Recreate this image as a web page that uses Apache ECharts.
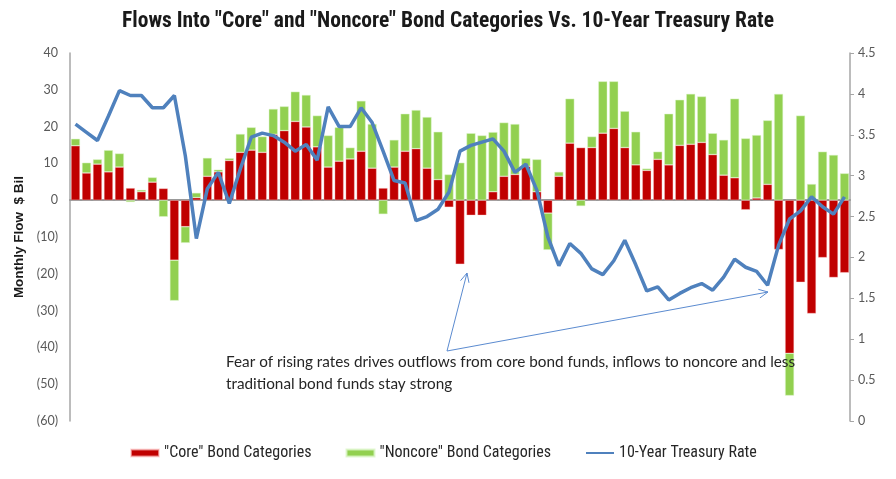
<!DOCTYPE html>
<html lang="en">
<head>
  <meta charset="UTF-8">
  <title>Bond flows vs 10-year rate</title>
  <style>
    html, body { margin: 0; padding: 0; background: #fff; }
    #chart { width: 896px; height: 479px; }
  </style>
</head>
<body>
  <div id="chart"></div>
</body>
<script src="https://cdn.jsdelivr.net/npm/echarts@6/dist/echarts.min.js"></script>
<script>
  // monthly, Jan 2008 .. Nov 2013
  let months = []
  for (let i = 0; i < 71; i++) {
    let y = 2008 + Math.floor(i / 12)
    let m = (i % 12) + 1
    months.push(y + '-' + (m < 10 ? '0' + m : m))
  }

  let coreFlow = [
    14.8, 7.4, 9.8, 7.7, 9.0, 3.3, 2.3, 4.9, 3.2, -16.3,
    -7.2, 0.7, 6.5, 7.7, 10.8, 13.0, 13.6, 13.0, 17.9, 18.9,
    21.4, 19.9, 14.5, 9.0, 10.6, 11.2, 13.3, 8.7, 3.3, 9.0,
    13.3, 14.0, 8.7, 5.6, -1.9, -17.4, -4.1, -4.1, 2.3, 6.5,
    7.0, 9.2, 2.3, -3.5, 6.5, 15.5, 14.3, 14.3, 18.2, 19.5,
    14.3, 9.6, 8.1, 11.1, 9.6, 14.9, 15.2, 15.7, 12.4, 6.8,
    6.1, -2.6, 0.6, 4.3, -13.4, -41.6, -22.3, -30.8, -15.6, -21.0,
    -19.7
  ]
  let noncoreFlow = [
    1.9, 2.8, 1.3, 5.9, 3.7, -0.5, 0.5, 1.3, -4.5, -11.0,
    -4.4, 1.3, 5.0, 0.6, 0.6, 5.0, 6.2, 4.3, 6.9, 6.6,
    8.1, 8.7, 8.5, 8.6, 9.2, 3.1, 13.7, 12.0, -3.8, 7.4,
    10.2, 10.5, 13.9, 13.0, 7.0, 10.2, 18.2, 17.6, 16.2, 14.6,
    13.7, 2.2, 8.8, -10.0, 1.2, 12.1, -1.6, 3.0, 14.1, 12.8,
    9.9, 9.0, 0.5, 2.1, 13.9, 12.4, 13.7, 12.5, 5.8, 9.6,
    21.5, 16.8, 17.1, 17.4, 28.9, -11.5, 23.0, 4.4, 13.2, 12.3,
    7.3
  ]
  let treasuryRate = [
    3.63, 3.53, 3.43, 3.73, 4.04, 3.98, 3.98, 3.83, 3.83, 3.98,
    3.24, 2.23, 2.84, 3.04, 2.66, 3.08, 3.47, 3.52, 3.49, 3.41,
    3.30, 3.38, 3.19, 3.84, 3.60, 3.60, 3.83, 3.65, 3.30, 2.94,
    2.91, 2.45, 2.50, 2.59, 2.80, 3.30, 3.37, 3.41, 3.45, 3.30,
    3.04, 3.14, 2.82, 2.25, 1.90, 2.17, 2.05, 1.86, 1.79, 1.96,
    2.21, 1.91, 1.59, 1.64, 1.48, 1.56, 1.63, 1.68, 1.60, 1.76,
    1.98, 1.88, 1.83, 1.66, 2.15, 2.47, 2.57, 2.74, 2.62, 2.53,
    2.74
  ]

  let noteLines = [
    'Fear of rising rates drives outflows from core bond funds, inflows to noncore and less',
    'traditional bond funds stay strong'
  ]

  let axisGray = '#a6a6a6'
  let labelGray = '#595959'
  let narrow = '"Liberation Sans Narrow", "Arial Narrow", "Roboto Condensed", sans-serif'

  // open arrow head as a polyline
  function arrow(x1, y1, x2, y2) {
    let a = Math.atan2(y2 - y1, x2 - x1)
    let len = 10, spread = 0.45
    return [
      { type: 'line', z: 100, shape: { x1: x1, y1: y1, x2: x2, y2: y2 }, style: { stroke: '#5b8bd0', lineWidth: 1 } },
      {
        type: 'polyline',
        z: 100,
        shape: {
          points: [
            [x2 - len * Math.cos(a - spread), y2 - len * Math.sin(a - spread)],
            [x2, y2],
            [x2 - len * Math.cos(a + spread), y2 - len * Math.sin(a + spread)]
          ]
        },
        style: { stroke: '#5b8bd0', lineWidth: 1, fill: null }
      }
    ]
  }

  let chart = echarts.init(document.getElementById('chart'))

  let option = {
    animation: false,
    backgroundColor: '#fff',
    title: {
      text: 'Flows Into "Core" and "Noncore" Bond Categories Vs. 10-Year Treasury Rate',
      left: 'center',
      top: 6,
      textStyle: { fontFamily: narrow, fontWeight: 'bold', fontSize: 21.5, color: '#1a1a1a' }
    },
    legend: {
      bottom: 13,
      left: 125,
      itemGap: 34,
      itemWidth: 28,
      itemHeight: 7,
      textStyle: { fontFamily: narrow, fontSize: 16, color: '#262626' },
      data: [
        { name: '"Core" Bond Categories', icon: 'rect' },
        { name: '"Noncore" Bond Categories', icon: 'rect' },
        { name: '10-Year Treasury Rate', itemStyle: { opacity: 0 } }
      ]
    },
    grid: { left: 70, right: 46, top: 53, bottom: 58 },
    xAxis: {
      type: 'category',
      data: months,
      axisLine: { onZero: true, onZeroAxisIndex: 0, lineStyle: { color: '#999', width: 2 } },
      axisTick: { show: false },
      axisLabel: { show: false },
      splitLine: { show: false }
    },
    yAxis: [
      {
        type: 'value',
        min: -60,
        max: 40,
        interval: 10,
        name: 'Monthly Flow  $ Bil',
        nameLocation: 'middle',
        nameGap: 42,
        nameTextStyle: { fontFamily: 'Liberation Sans', fontWeight: 'bold', fontSize: 13.5, color: '#1a1a1a' },
        axisLine: { show: true, lineStyle: { color: axisGray, width: 1.5 } },
        axisTick: { show: false },
        splitLine: { show: false },
        axisLabel: {
          fontFamily: 'Lato',
          fontSize: 12.5,
          color: labelGray,
          margin: 12,
          formatter: v => v < 0 ? '(' + (-v) + ')' : String(v)
        }
      },
      {
        type: 'value',
        min: 0,
        max: 4.5,
        interval: 0.5,
        axisLine: { show: true, lineStyle: { color: axisGray, width: 1.5 } },
        axisTick: { show: true, length: 4, lineStyle: { color: axisGray } },
        splitLine: { show: false },
        axisLabel: { fontFamily: 'Lato', fontSize: 12.5, color: labelGray, margin: 8 }
      }
    ],
    series: [
      {
        name: '"Core" Bond Categories',
        type: 'bar',
        stack: 'flow',
        data: coreFlow,
        barCategoryGap: '18%',
        itemStyle: { color: '#c00000', borderColor: 'rgba(255,200,200,0.6)', borderWidth: 0.6 }
      },
      {
        name: '"Noncore" Bond Categories',
        type: 'bar',
        stack: 'flow',
        data: noncoreFlow,
        barCategoryGap: '18%',
        itemStyle: { color: '#92d050', borderColor: 'rgba(220,245,200,0.8)', borderWidth: 0.6 }
      },
      {
        name: '10-Year Treasury Rate',
        type: 'line',
        yAxisIndex: 1,
        data: treasuryRate,
        symbol: 'none',
        z: 5,
        lineStyle: { color: '#4f81bd', width: 3.5 },
        itemStyle: { color: '#4f81bd' }
      }
    ],
    graphic: [
      ...arrow(447, 351, 467, 273),
      ...arrow(447, 351, 768, 292),
      {
        type: 'text',
        z: 100,
        left: 226,
        top: 351,
        style: {
          text: noteLines.join('\n'),
          fontFamily: 'Lato',
          fontSize: 15.3,
          lineHeight: 22,
          fill: '#262626'
        }
      }
    ]
  }

  chart.setOption(option)
</script>
</html>
